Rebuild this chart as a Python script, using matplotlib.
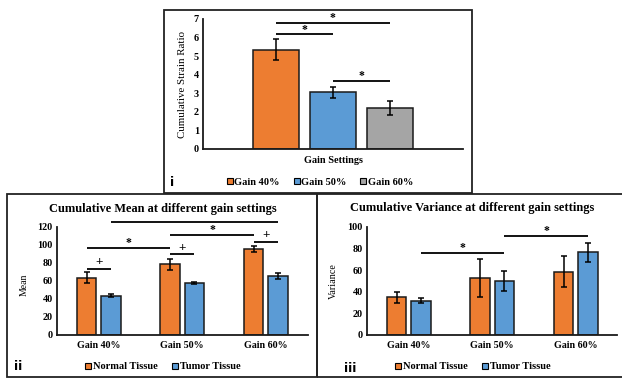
import matplotlib
matplotlib.use('Agg')
import matplotlib.pyplot as plt
from matplotlib.patches import Rectangle
from matplotlib.lines import Line2D

plt.rcParams['font.family'] = 'Liberation Serif'
plt.rcParams['font.weight'] = 'bold'

ORANGE = '#ED7D31'
BLUE = '#5B9BD5'
GREY = '#A5A5A5'

# panel i: cumulative strain ratio
strain_labels = ['Gain 40%', 'Gain 50%', 'Gain 60%']
strain_vals = [5.35, 3.05, 2.22]
strain_err = [0.55, 0.30, 0.37]

# panel ii: cumulative mean
gains = ['Gain 40%', 'Gain 50%', 'Gain 60%']
mean_normal = [63.5, 78.3, 95.3]
mean_normal_err = [6.0, 6.0, 3.5]
mean_tumor = [43.5, 57.2, 65.4]
mean_tumor_err = [1.5, 1.0, 3.0]

# panel iii: cumulative variance
var_normal = [35.0, 52.3, 58.5]
var_normal_err = [5.0, 17.5, 14.0]
var_tumor = [31.7, 49.9, 76.4]
var_tumor_err = [2.5, 9.0, 9.0]

W, H = 622, 379
fig = plt.figure(figsize=(W / 100, H / 100), dpi=100)


def fx(px):
    return px / W


def fy(py):
    return 1 - py / H


def make_ax(left, right, top, bottom):
    ax = fig.add_axes([fx(left), fy(bottom), fx(right - left), (bottom - top) / H])
    for s in ['top', 'right']:
        ax.spines[s].set_visible(False)
    for s in ['left', 'bottom']:
        ax.spines[s].set_linewidth(1.3)
        ax.spines[s].set_color('#1a1a1a')
    ax.tick_params(length=0, labelsize=7.3, pad=3)
    return ax


def sig(ax, x1, x2, y, sym):
    ax.plot([x1, x2], [y, y], color='black', lw=1.3, solid_capstyle='butt', clip_on=False)
    fs = 8.5 if sym == '*' else 9.5
    dy = -0.8 if sym == '*' else 0.5
    ax.annotate(sym, ((x1 + x2) / 2, y), xytext=(0, dy), textcoords='offset points',
                ha='center', va='bottom', fontsize=fs, fontweight='bold')


def square(color):
    return Line2D([], [], marker='s', ls='none', markersize=5, markerfacecolor=color,
                  markeredgecolor='black', markeredgewidth=0.8)


# panel frames
frame_kw = dict(transform=fig.transFigure, fill=False, lw=1.3, edgecolor='#222222')
fig.patches.append(Rectangle((fx(164), fy(193)), fx(472 - 164), (193 - 10) / H, **frame_kw))
fig.patches.append(Rectangle((fx(7), fy(377)), fx(317 - 7), (377 - 194) / H, **frame_kw))
fig.patches.append(Rectangle((fx(317), fy(377)), fx(622 - 317 + 5), (377 - 194) / H, **frame_kw))

# ---- panel i
ax1 = make_ax(203, 463, 19, 149)
colors = [ORANGE, BLUE, GREY]
offs = [-0.221, 0.0, 0.219]
for i in range(3):
    ax1.bar(offs[i], strain_vals[i], width=0.177, color=colors[i], edgecolor='#1a1a1a',
            lw=1.1, yerr=strain_err[i], capsize=2,
            error_kw=dict(elinewidth=1.1, capthick=1.1, ecolor='black'))
ax1.set_xlim(-0.5, 0.5)
ax1.set_ylim(0, 7)
ax1.set_yticks(range(0, 8))
ax1.set_xticks([0])
ax1.set_xticklabels(['Gain Settings'], fontsize=7.4)
ax1.tick_params(axis='x', pad=5)
ax1.set_ylabel('Cumulative Strain Ratio', fontsize=7.8)
ax1.yaxis.set_label_coords(-0.062, 0.5)
sig(ax1, offs[0], offs[2], 6.81, '*')
sig(ax1, offs[0], offs[1], 6.17, '*')
sig(ax1, offs[1], offs[2], 3.67, '*')
fig.legend([square(c) for c in colors], strain_labels, loc='center', ncol=3,
           bbox_to_anchor=(fx(320), fy(182)), frameon=False, fontsize=7.5,
           handlelength=0.6, handletextpad=0.15, columnspacing=1.3, borderpad=0)
fig.text(fx(172), fy(182), 'i', family='DejaVu Sans', fontsize=9, fontweight='bold',
         ha='center', va='center')


def grouped(ax, normal, nerr, tumor, terr, ymax, step):
    x = list(range(len(gains)))
    ek = dict(elinewidth=1.1, capthick=1.1, ecolor='black')
    ax.bar([i - 0.144 for i in x], normal, width=0.233, color=ORANGE, edgecolor='#1a1a1a',
           lw=1.1, yerr=nerr, capsize=2, error_kw=ek)
    ax.bar([i + 0.144 for i in x], tumor, width=0.233, color=BLUE, edgecolor='#1a1a1a',
           lw=1.1, yerr=terr, capsize=2, error_kw=ek)
    ax.set_xlim(-0.5, 2.5)
    ax.set_ylim(0, ymax)
    ax.set_yticks(range(0, ymax + 1, step))
    ax.set_xticks(x)
    ax.set_xticklabels(gains, fontsize=7.2)
    ax.tick_params(axis='x', pad=4)


# ---- panel ii
ax2 = make_ax(57, 307.5, 226.7, 335)
grouped(ax2, mean_normal, mean_normal_err, mean_tumor, mean_tumor_err, 120, 20)
fig.text(fx(163), fy(208.5), 'Cumulative Mean at different gain settings', fontsize=8.9,
         fontweight='bold', ha='center', va='center')
ax2.set_ylabel('Mean', fontsize=7)
ax2.yaxis.set_label_coords(-0.115, 0.46)
o = -0.144
t = 0.144
sig(ax2, 0 + o, 1 + o, 96, '*')
sig(ax2, 0 + o, 0 + t, 73, '+')
sig(ax2, 1 + o, 1 + t, 89.4, '+')
sig(ax2, 1 + o, 2 + o, 110.8, '*')
sig(ax2, 2 + o, 2 + t, 103.4, '+')
sig(ax2, 0 + t, 1 + t, 124.8, '*')
sig(ax2, 1 + t, 2 + t, 124.8, '*')
fig.legend([square(ORANGE), square(BLUE)], ['Normal Tissue', 'Tumor Tissue'], loc='center',
           ncol=2, bbox_to_anchor=(fx(163), fy(366.5)), frameon=False, fontsize=7.5,
           handlelength=0.6, handletextpad=0.15, columnspacing=1.4, borderpad=0)
fig.text(fx(18), fy(367), 'ii', family='DejaVu Sans', fontsize=9, fontweight='bold',
         ha='center', va='center')

# ---- panel iii
ax3 = make_ax(367, 617.5, 226.7, 335)
grouped(ax3, var_normal, var_normal_err, var_tumor, var_tumor_err, 100, 20)
fig.text(fx(472), fy(208), 'Cumulative Variance at different gain settings', fontsize=8.9,
         fontweight='bold', ha='center', va='center')
ax3.set_ylabel('Variance', fontsize=7.3)
ax3.yaxis.set_label_coords(-0.115, 0.5)
sig(ax3, 0 + t, 1 + t, 75.4, '*')
sig(ax3, 1 + t, 2 + t, 91.7, '*')
fig.legend([square(ORANGE), square(BLUE)], ['Normal Tissue', 'Tumor Tissue'], loc='center',
           ncol=2, bbox_to_anchor=(fx(473), fy(366.5)), frameon=False, fontsize=7.5,
           handlelength=0.6, handletextpad=0.15, columnspacing=1.4, borderpad=0)
fig.text(fx(350), fy(368), 'iii', family='DejaVu Sans', fontsize=9, fontweight='bold',
         ha='center', va='center')

fig.savefig('out.png', dpi=100)
